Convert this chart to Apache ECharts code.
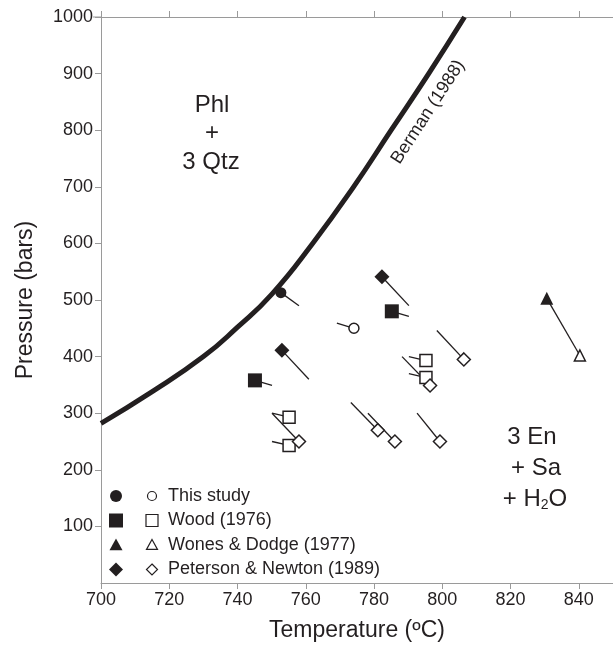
<!DOCTYPE html>
<html lang="en">
<head>
  <meta charset="UTF-8">
  <title>Phl + 3 Qtz</title>
  <style>
    html, body { margin: 0; padding: 0; background: #fff; }
    #chart { width: 613px; height: 647px; }
  </style>
</head>
<body>
  <div id="chart"></div>
  <script src="https://cdn.jsdelivr.net/npm/echarts@6/dist/echarts.min.js"></script>
  <script>
    // Berman (1988) reaction curve
    var bermanT = [700, 715, 730, 740, 750, 762, 774, 785, 796, 806.5]
    var bermanP = [282, 338, 400, 452, 510, 600, 700, 800, 900, 1000]

    // each point: [T, P, tailT, tailP]
    var thisStudyFilled = [[752.7, 513, 758, 490]]
    var thisStudyOpen = [[774.1, 450, 769.1, 459]]
    var woodFilled = [[785.2, 480, 790.2, 471], [745.1, 358, 750.1, 349]]
    var woodOpen = [[795.2, 393, 790.2, 400], [795.2, 363, 790.2, 370], [755.1, 293, 750.1, 300], [755.1, 243, 750.1, 250]]
    var wonesFilled = [[830.6, 503, 840.3, 402]]
    var wonesOpen = [[840.3, 402, 840.3, 402]]
    var petersonFilled = [[782.3, 541, 790.2, 490], [753, 411, 760.9, 360]]
    var petersonOpen = [[796.4, 349, 788.2, 400], [758, 250, 750.1, 300], [781.1, 270, 773.2, 319],
                        [786.1, 250, 778.2, 300], [799.3, 250, 792.6, 300], [806.3, 395, 798.4, 446]]

    var legendNames = ['This study', 'Wood (1976)', 'Wones & Dodge (1977)', 'Peterson & Newton (1989)']

    var ink = '#231f20'
    var axisGrey = '#9a9a9a'
    var font = 'Liberation Sans, Arial, sans-serif'

    var chart = echarts.init(document.getElementById('chart'))

    function markSeries(pts, symbol, size, filled) {
      return {
        type: 'scatter',
        symbol: symbol,
        symbolSize: size,
        z: 5,
        silent: true,
        itemStyle: filled
          ? { color: ink, borderWidth: 0, opacity: 1 }
          : { color: '#fff', borderColor: ink, borderWidth: 1.5, opacity: 1 },
        data: pts.map(function (p) { return [p[0], p[1]] })
      }
    }
    function tailSeries(pts) {
      return {
        type: 'lines',
        coordinateSystem: 'cartesian2d',
        z: 3,
        silent: true,
        lineStyle: { color: ink, width: 1.3, opacity: 1 },
        data: pts.map(function (p) { return { coords: [[p[0], p[1]], [p[2], p[3]]] } })
      }
    }

    // legend drawn by hand (two symbols per row)
    function legendSymbol(kind, x, y, s, filled) {
      var style = filled ? { fill: ink } : { fill: '#fff', stroke: ink, lineWidth: 1.2 }
      var h = s / 2
      if (kind === 'circle') return { type: 'circle', shape: { cx: x, cy: y, r: h }, style: style }
      if (kind === 'rect') return { type: 'rect', shape: { x: x - h, y: y - h, width: s, height: s }, style: style }
      if (kind === 'triangle') return { type: 'polygon', shape: { points: [[x, y - h], [x + h, y + h * 0.8], [x - h, y + h * 0.8]] }, style: style }
      return { type: 'polygon', shape: { points: [[x, y - h], [x + h, y], [x, y + h], [x - h, y]] }, style: style }
    }
    var legendKinds = ['circle', 'rect', 'triangle', 'diamond']
    var filledSizes = [12, 14, 13, 14]
    var openSizes = [9, 12, 11, 11]
    var legendGraphics = []
    legendNames.forEach(function (name, i) {
      var y = 496 + i * 24.5
      legendGraphics.push(legendSymbol(legendKinds[i], 116, y, filledSizes[i], true))
      legendGraphics.push(legendSymbol(legendKinds[i], 152, y, openSizes[i], false))
      legendGraphics.push({
        type: 'text', x: 168, y: y,
        style: { text: name, fill: ink, font: '18px ' + font, verticalAlign: 'middle' }
      })
    })

    var labelText = [
      { text: 'Phl', x: 212, y: 105 },
      { text: '+', x: 212, y: 133 },
      { text: '3 Qtz', x: 211, y: 162 },
      { text: '3 En', x: 532, y: 437 },
      { text: '+ Sa', x: 536, y: 468 }
    ].map(function (t) {
      return {
        type: 'text', x: t.x, y: t.y,
        style: { text: t.text, fill: ink, font: '24px ' + font, align: 'center', verticalAlign: 'middle' }
      }
    })

    option = {
      backgroundColor: '#fff',
      animation: false,
      grid: { left: 101, right: 0, top: 17, bottom: 62 },
      xAxis: [{
        type: 'value', min: 700, max: 850, interval: 20,
        name: 'Temperature (ºC)', nameLocation: 'middle', nameGap: 36,
        nameTextStyle: { fontSize: 23, color: ink, fontFamily: font },
        axisLine: { lineStyle: { color: axisGrey, width: 1 } },
        axisTick: { length: 6, lineStyle: { color: axisGrey } },
        axisLabel: { fontSize: 18, color: ink, fontFamily: font, margin: 8, showMaxLabel: false },
        splitLine: { show: false }
      }, {
        type: 'value', position: 'top', min: 700, max: 850, interval: 20,
        axisLine: { lineStyle: { color: axisGrey, width: 1 } },
        axisTick: { length: 6, lineStyle: { color: axisGrey } },
        axisLabel: { show: false },
        splitLine: { show: false }
      }],
      yAxis: {
        type: 'value', min: 0, max: 1000, interval: 100,
        name: 'Pressure (bars)', nameLocation: 'middle', nameGap: 64,
        nameTextStyle: { fontSize: 23, color: ink, fontFamily: font },
        axisLine: { show: true, lineStyle: { color: axisGrey, width: 1 } },
        axisTick: { show: true, length: 6, lineStyle: { color: axisGrey } },
        axisLabel: {
          fontSize: 18, color: ink, fontFamily: font, margin: 8, showMinLabel: false,
          formatter: function (v) { return String(v) }
        },
        splitLine: { show: false }
      },
      series: [
        {
          type: 'line', smooth: true, symbol: 'none', silent: true, z: 4,
          lineStyle: { color: ink, width: 5 },
          data: bermanT.map(function (t, i) { return [t, bermanP[i]] })
        },
        tailSeries(thisStudyFilled), tailSeries(thisStudyOpen),
        tailSeries(woodFilled), tailSeries(woodOpen),
        tailSeries(wonesFilled),
        tailSeries(petersonFilled), tailSeries(petersonOpen),
        markSeries(thisStudyFilled, 'circle', 11, true),
        markSeries(thisStudyOpen, 'circle', 10, false),
        markSeries(woodFilled, 'rect', 14, true),
        markSeries(woodOpen, 'rect', 12, false),
        markSeries(wonesFilled, 'triangle', 13, true),
        markSeries(wonesOpen, 'triangle', 11, false),
        markSeries(petersonFilled, 'diamond', 15, true),
        markSeries(petersonOpen, 'diamond', 13, false)
      ],
      graphic: legendGraphics.concat(labelText).concat([
        {
          type: 'text', x: 535, y: 499,
          style: {
            text: '{a|+ H}{s|2}{a|O}', align: 'center', verticalAlign: 'middle',
            rich: {
              a: { font: '24px ' + font, fill: ink, color: ink },
              s: { font: '14px ' + font, fill: ink, color: ink, padding: [12, 0, 0, 0] }
            }
          }
        },
        {
          type: 'text', x: 428, y: 112, rotation: 57 * Math.PI / 180,
          style: { text: 'Berman (1988)', fill: ink, font: '18px ' + font, align: 'center', verticalAlign: 'middle' }
        },
        // top frame line runs a little past the left axis
        { type: 'line', shape: { x1: 93, y1: 17, x2: 101, y2: 17 }, style: { stroke: axisGrey, lineWidth: 1 } }
      ])
    }
    chart.setOption(option)
  </script>
</body>
</html>
